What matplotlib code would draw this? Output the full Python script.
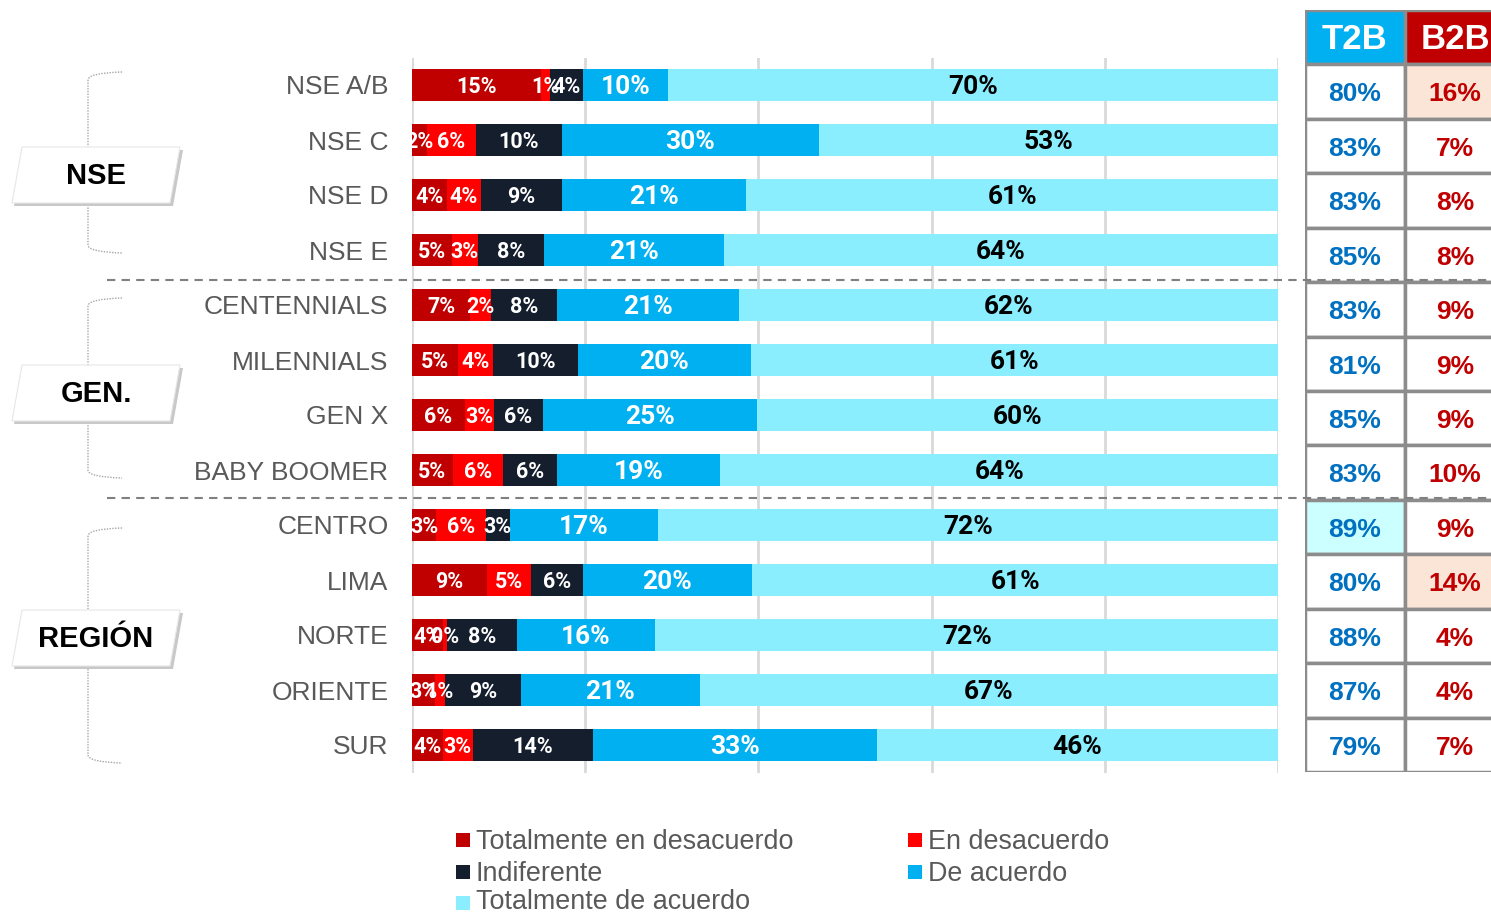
import numpy as np
import matplotlib.pyplot as plt
from matplotlib.patches import Rectangle, Polygon
from matplotlib.lines import Line2D
from matplotlib.path import Path
from matplotlib.patches import PathPatch

# survey results by segment (percent)
segmentos = ["NSE A/B", "NSE C", "NSE D", "NSE E",
             "CENTENNIALS", "MILENNIALS", "GEN X", "BABY BOOMER",
             "CENTRO", "LIMA", "NORTE", "ORIENTE", "SUR"]
tot_desacuerdo = [14.9, 1.7, 4.0, 4.6, 6.7, 5.3, 6.1, 4.7, 2.8, 8.7, 3.6, 2.6, 3.6]
en_desacuerdo = [1.0, 5.7, 4.0, 3.0, 2.4, 4.1, 3.4, 5.8, 5.7, 5.0, 0.4, 1.2, 3.4]
indiferente = [3.8, 9.9, 9.3, 7.6, 7.7, 9.8, 5.6, 6.2, 2.8, 6.0, 8.1, 8.8, 13.9]
de_acuerdo = [9.9, 29.7, 21.3, 20.8, 21.0, 19.9, 24.7, 18.9, 17.1, 19.6, 16.0, 20.6, 32.8]
tot_acuerdo = [70.4, 53.0, 61.4, 64.0, 62.2, 60.9, 60.2, 64.4, 71.6, 60.7, 71.9, 66.8, 46.3]

t2b = [80, 83, 83, 85, 83, 81, 85, 83, 89, 80, 88, 87, 79]
b2b = [16, 7, 8, 8, 9, 9, 9, 10, 9, 14, 4, 4, 7]

grupos = ["NSE", "GEN.", "REGIÓN"]
leyenda = ["Totalmente en desacuerdo", "En desacuerdo", "Indiferente",
           "De acuerdo", "Totalmente de acuerdo"]
colores = ["#C00000", "#FF0000", "#141E2D", "#00B0F0", "#8BEEFF"]

W, H = 1491, 914


def fx(x):
    return x / W


def fy(y):
    return 1 - y / H


fig = plt.figure(figsize=(W / 100, H / 100), dpi=100)

# stacked bars
ax = fig.add_axes([fx(412), fy(772.5), 866 / W, 715 / H])
series = [tot_desacuerdo, en_desacuerdo, indiferente, de_acuerdo, tot_acuerdo]
y = np.arange(len(segmentos))
left = np.zeros(len(segmentos))
for i, (vals, col) in enumerate(zip(series, colores)):
    vals = np.array(vals, dtype=float)
    ax.barh(y, vals, left=left, height=0.58, color=col, zorder=2)
    for yi, (l, v) in enumerate(zip(left, vals)):
        big = i >= 3
        ax.text(l + v / 2, yi + 0.03, f"{v:.0f}%", ha="center", va="center",
                fontsize=19 if big else 15.5, fontweight="bold",
                fontfamily="Roboto", color="black" if i == 4 else "white",
                zorder=3)
    left += vals

ax.set_xlim(0, 100)
ax.set_ylim(12.5, -0.5)
ax.set_xticks(np.arange(0, 101, 20))
ax.xaxis.grid(True, color="#D9D9D9", lw=2)
ax.set_axisbelow(True)
ax.tick_params(axis="x", length=0, labelbottom=False)
ax.set_yticks(y)
ax.set_yticklabels(segmentos, fontsize=19, color="#595959",
                   fontfamily="Liberation Sans")
ax.tick_params(axis="y", length=0, pad=17)
for s in ax.spines.values():
    s.set_visible(False)

# T2B / B2B table
tab = fig.add_axes([fx(1305), fy(772), 200 / W, 762 / H])
tab.set_xlim(0, 2)
tab.set_ylim(14, 0)
tab.axis("off")
borde = "#8C8C8C"
tab.add_patch(Rectangle((0, 0), 1, 1, fc="#00B0F0", ec=borde, lw=2.5))
tab.add_patch(Rectangle((1, 0), 1, 1, fc="#C00000", ec=borde, lw=2.5))
tab.text(0.5, 0.55, "T2B", ha="center", va="center", color="white",
         fontsize=25, fontweight="bold", fontfamily="Liberation Sans")
tab.text(1.5, 0.55, "B2B", ha="center", va="center", color="white",
         fontsize=25, fontweight="bold", fontfamily="Liberation Sans")
for r, (a, b) in enumerate(zip(t2b, b2b)):
    fa = "#CCFFFF" if a >= 89 else "white"
    fb = "#FBE5D6" if b >= 14 else "white"
    tab.add_patch(Rectangle((0, r + 1), 1, 1, fc=fa, ec=borde, lw=2.5))
    tab.add_patch(Rectangle((1, r + 1), 1, 1, fc=fb, ec=borde, lw=2.5))
    tab.text(0.5, r + 1.55, f"{a}%", ha="center", va="center",
             color="#0070C0", fontsize=19, fontweight="bold",
             fontfamily="Liberation Sans")
    tab.text(1.5, r + 1.55, f"{b}%", ha="center", va="center",
             color="#C00000", fontsize=19, fontweight="bold",
             fontfamily="Liberation Sans")

# dashed separators between groups
for ys in (280, 498):
    fig.add_artist(Line2D([fx(107), 1], [fy(ys), fy(ys)], color="#808080",
                          lw=1.5, ls=(0, (4, 3)), transform=fig.transFigure))

# group brackets and labels
spans = [(72, 253, 175), (298, 478, 393), (528, 763, 638)]
for nombre, (top, bot, mid) in zip(grupos, spans):
    verts = [(fx(122), fy(top)), (fx(88), fy(top + 1)), (fx(88), fy(top + 8)),
             (fx(88), fy(bot - 8)), (fx(88), fy(bot - 1)), (fx(122), fy(bot))]
    codes = [Path.MOVETO, Path.CURVE3, Path.CURVE3,
             Path.LINETO, Path.CURVE3, Path.CURVE3]
    fig.add_artist(PathPatch(Path(verts, codes), fc="none", ec="#A6A6A6",
                             lw=1, ls=(0, (1, 1)), transform=fig.transFigure))
    y0, y1 = mid - 28, mid + 28
    sombra = [(fx(24), fy(y0 + 3)), (fx(183), fy(y0 + 3)),
              (fx(173), fy(y1 + 3)), (fx(14), fy(y1 + 3))]
    caja = [(fx(22), fy(y0)), (fx(180), fy(y0)),
            (fx(170), fy(y1)), (fx(12), fy(y1))]
    fig.add_artist(Polygon(sombra, closed=True, fc="#C8C8C8", ec="none",
                           transform=fig.transFigure))
    fig.add_artist(Polygon(caja, closed=True, fc="white", ec="#E6E6E6",
                           lw=0.8, transform=fig.transFigure))
    fig.text(fx(96), fy(mid + 1), nombre, ha="center", va="center",
             fontsize=21, fontweight="bold", color="black",
             fontfamily="Liberation Sans")

# legend: square centre row, text centre row
pos = [(456, 840, 842), (908, 840, 842), (456, 872, 874),
       (908, 872, 874), (456, 903, 902)]
for txt, col, (lx, sy, ty) in zip(leyenda, colores, pos):
    fig.add_artist(Rectangle((fx(lx), fy(sy + 7)), 14 / W, 14 / H, fc=col,
                             ec="none", transform=fig.transFigure))
    fig.text(fx(lx + 20), fy(ty), txt, ha="left", va="center", fontsize=19.4,
             color="#595959", fontfamily="Liberation Sans")

fig.savefig("out.png", dpi=100)
